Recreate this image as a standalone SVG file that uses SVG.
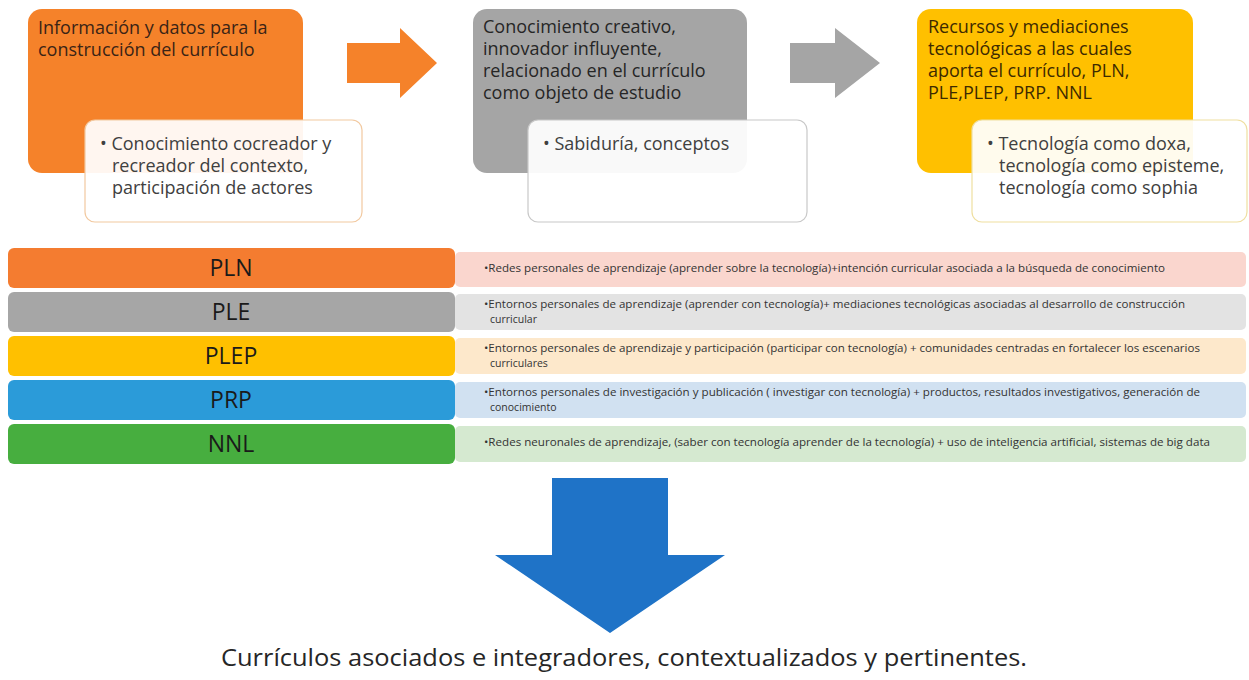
<svg xmlns="http://www.w3.org/2000/svg" width="1249" height="680" viewBox="0 0 1249 680">
<style>
.hd{font-family:"Open Sans","Liberation Sans",sans-serif;font-size:18px;fill:#3a2416}
.wb{font-family:"Open Sans","Liberation Sans",sans-serif;font-size:18px;fill:#404040}
.lbl{font-family:"Open Sans","Liberation Sans",sans-serif;font-size:23px;fill:#1a1a1a;text-anchor:middle}
.sm{font-family:"Open Sans","Liberation Sans",sans-serif;font-size:10.5px;fill:#333333}
.bt{font-family:"Open Sans","Liberation Sans",sans-serif;font-size:24px;fill:#262626;text-anchor:middle}
.wbox{fill:#ffffff;fill-opacity:0.93;stroke-width:1.2}
</style>
<rect width="1249" height="680" fill="#ffffff"/>

<g id="node-info">
<rect x="28" y="9" width="275" height="164" rx="14" fill="#F5822A"/>
<text class="hd" x="38" y="34">Información y datos para la</text>
<text class="hd" x="38" y="56">construcción del currículo</text>
<rect class="wbox" x="85" y="120" width="277" height="102" rx="10" stroke="#F2C9A0"/>
<text class="wb" x="100" y="150">• Conocimiento cocreador y</text>
<text class="wb" x="112" y="172">recreador del contexto,</text>
<text class="wb" x="112" y="194">participación de actores</text>
</g>

<g id="node-conocimiento">
<rect x="473" y="9" width="274" height="164" rx="14" fill="#A5A5A5"/>
<text class="hd" x="483" y="33" style="fill:#262626">Conocimiento creativo,</text>
<text class="hd" x="483" y="55" style="fill:#262626">innovador influyente,</text>
<text class="hd" x="483" y="77" style="fill:#262626">relacionado en el currículo</text>
<text class="hd" x="483" y="99" style="fill:#262626">como objeto de estudio</text>
<rect class="wbox" x="528" y="120" width="279" height="102" rx="10" stroke="#C8C8C8"/>
<text class="wb" x="543" y="150">• Sabiduría, conceptos</text>
</g>

<g id="node-recursos">
<rect x="917" y="9" width="276" height="164" rx="14" fill="#FFC000"/>
<text class="hd" x="928" y="33" style="fill:#3d2a00">Recursos y mediaciones</text>
<text class="hd" x="928" y="55" style="fill:#3d2a00">tecnológicas a las cuales</text>
<text class="hd" x="928" y="77" style="fill:#3d2a00">aporta el currículo, PLN,</text>
<text class="hd" x="928" y="99" style="fill:#3d2a00">PLE,PLEP, PRP. NNL</text>
<rect class="wbox" x="972" y="120" width="275" height="102" rx="10" stroke="#EFDFA0"/>
<text class="wb" x="987" y="150">• Tecnología como doxa,</text>
<text class="wb" x="999" y="172">tecnología como episteme,</text>
<text class="wb" x="999" y="194">tecnología como sophia</text>
</g>

<g id="connectors">
<polygon points="347,43 400,43 400,28 437,63 400,98 400,83 347,83" fill="#F5822A"/>
<polygon points="790,43 835,43 835,28 880,63 835,98 835,83 790,83" fill="#A5A5A5"/>
<polygon points="552,478 668,478 668,555 725,555 610,633 495,555 552,555" fill="#1F73C7"/>
</g>

<g id="row-pln">
<rect x="8" y="248" width="447" height="40" rx="6" fill="#F47C30"/>
<text class="lbl" x="231" y="276">PLN</text>
<rect x="455" y="252" width="791" height="35" rx="5" fill="#FAD6CE"/>
<text class="sm" x="484" y="272" textLength="681" lengthAdjust="spacingAndGlyphs">•Redes personales de aprendizaje (aprender sobre la tecnología)+intención curricular asociada a la búsqueda de conocimiento</text>
</g>

<g id="row-ple">
<rect x="8" y="292" width="447" height="40" rx="6" fill="#A6A6A6"/>
<text class="lbl" x="231" y="320">PLE</text>
<rect x="455" y="294" width="791" height="36" rx="5" fill="#E3E3E3"/>
<text class="sm" x="484" y="308" textLength="701" lengthAdjust="spacingAndGlyphs">•Entornos personales de aprendizaje (aprender con tecnología)+ mediaciones tecnológicas asociadas al desarrollo de construcción</text>
<text class="sm" x="490" y="323">curricular</text>
</g>

<g id="row-plep">
<rect x="8" y="336" width="447" height="40" rx="6" fill="#FFC000"/>
<text class="lbl" x="231" y="364">PLEP</text>
<rect x="455" y="338" width="791" height="36" rx="5" fill="#FDE8CB"/>
<text class="sm" x="484" y="352" textLength="716" lengthAdjust="spacingAndGlyphs">•Entornos personales de aprendizaje y participación (participar con tecnología) + comunidades centradas en fortalecer los escenarios</text>
<text class="sm" x="490" y="367">curriculares</text>
</g>

<g id="row-prp">
<rect x="8" y="380" width="447" height="40" rx="6" fill="#2B9BD9"/>
<text class="lbl" x="231" y="408">PRP</text>
<rect x="455" y="382" width="791" height="36" rx="5" fill="#D1E1F1"/>
<text class="sm" x="484" y="396" textLength="716" lengthAdjust="spacingAndGlyphs">•Entornos personales de investigación y publicación ( investigar con tecnología) + productos, resultados investigativos, generación de</text>
<text class="sm" x="490" y="411">conocimiento</text>
</g>

<g id="row-nnl">
<rect x="8" y="424" width="447" height="40" rx="6" fill="#47AE3F"/>
<text class="lbl" x="231" y="452">NNL</text>
<rect x="455" y="426" width="791" height="36" rx="5" fill="#D5E9D0"/>
<text class="sm" x="484" y="446" textLength="726" lengthAdjust="spacingAndGlyphs">•Redes neuronales de aprendizaje, (saber con tecnología aprender de la tecnología) + uso de inteligencia artificial, sistemas de big data</text>
</g>

<g id="node-result">
<text class="bt" x="624" y="666" textLength="806" lengthAdjust="spacingAndGlyphs">Currículos asociados e integradores, contextualizados y pertinentes.</text>
</g>
</svg>
